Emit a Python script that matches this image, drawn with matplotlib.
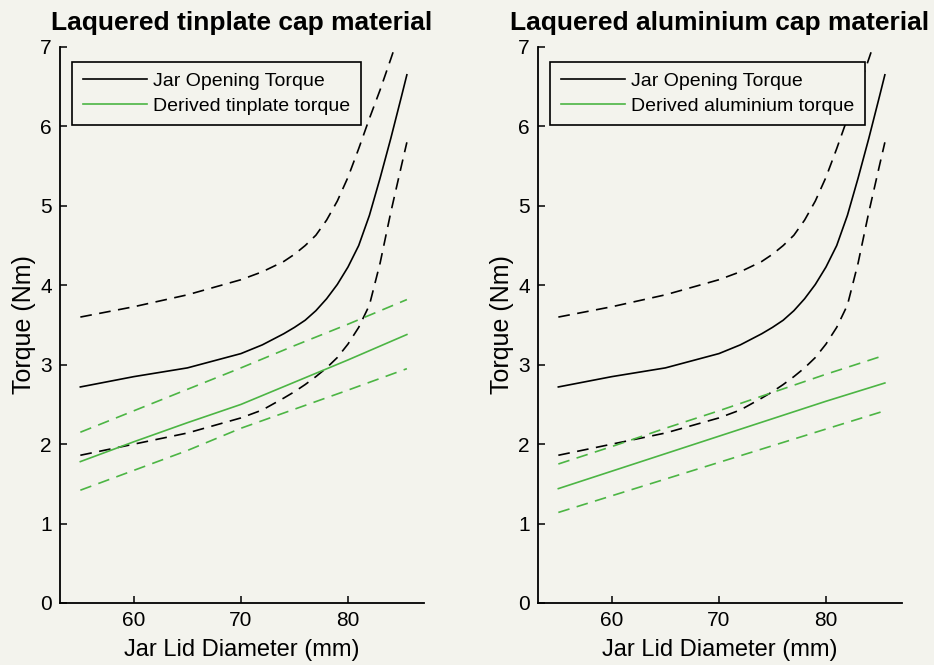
import numpy as np
import matplotlib.pyplot as plt

plt.rcParams['font.family'] = ['Liberation Sans', 'DejaVu Sans']

# jar opening torque (same on both panels)
dia_jar = [55, 60, 65, 70, 72, 74, 75, 76, 77, 78, 79, 80, 81, 82, 83, 84, 85, 85.5]
jar_mean = [2.72, 2.85, 2.96, 3.14, 3.25, 3.39, 3.47, 3.56, 3.68, 3.83, 4.01,
            4.23, 4.50, 4.88, 5.35, 5.85, 6.38, 6.65]
jar_upper = [3.60, 3.73, 3.88, 4.07, 4.17, 4.30, 4.39, 4.50, 4.63, 4.82, 5.06,
             5.36, 5.72, 6.10, 6.46, 6.85, 7.25, 7.45]
jar_lower = [1.86, 2.00, 2.14, 2.33, 2.43, 2.58, 2.66, 2.75, 2.85, 2.96, 3.09,
             3.26, 3.47, 3.75, 4.28, 4.92, 5.51, 5.80]

# derived cap torques
dia_cap = [55, 60, 65, 70, 75, 80, 85.5]
tin_mean = [1.78, 2.03, 2.27, 2.50, 2.78, 3.06, 3.38]
tin_upper = [2.15, 2.42, 2.69, 2.96, 3.24, 3.51, 3.82]
tin_lower = [1.42, 1.67, 1.92, 2.20, 2.44, 2.68, 2.95]
al_mean = [1.44, 1.66, 1.88, 2.10, 2.32, 2.54, 2.77]
al_upper = [1.75, 1.97, 2.20, 2.42, 2.65, 2.88, 3.12]
al_lower = [1.14, 1.35, 1.56, 1.77, 1.98, 2.19, 2.42]

panels = [
    ('Laquered tinplate cap material', 'Derived tinplate torque', tin_mean, tin_upper, tin_lower),
    ('Laquered aluminium cap material', 'Derived aluminium torque', al_mean, al_upper, al_lower),
]

bg = '#f3f3ed'
green = '#4cb544'
dash = (0, (7, 4.5))

fig = plt.figure(figsize=(9.34, 6.65), dpi=100, facecolor=bg)
lefts = [60 / 934, 538 / 934]

for left, (title, lab, m, up, lo) in zip(lefts, panels):
    ax = fig.add_axes([left, 1 - 603 / 665, 364 / 934, 556 / 665])
    ax.set_facecolor(bg)
    ax.plot(dia_jar, jar_mean, color='black', lw=1.2, label='Jar Opening Torque')
    ax.plot(dia_jar, jar_upper, color='black', lw=1.2, linestyle=dash)
    ax.plot(dia_jar, jar_lower, color='black', lw=1.2, linestyle=dash)
    ax.plot(dia_cap, m, color=green, lw=1.2, label=lab)
    ax.plot(dia_cap, up, color=green, lw=1.2, linestyle=dash)
    ax.plot(dia_cap, lo, color=green, lw=1.2, linestyle=dash)

    ax.set_xlim(53.1, 87.1)
    ax.set_ylim(0, 7)
    ax.set_xticks([60, 70, 80])
    ax.set_yticks(range(0, 8))
    for s in ['top', 'right']:
        ax.spines[s].set_visible(False)
    for s in ['left', 'bottom']:
        ax.spines[s].set_linewidth(1.3)
    ax.tick_params(direction='in', length=5, width=1.1, labelsize=15, pad=6)
    ax.set_xlabel('Jar Lid Diameter (mm)', fontsize=17, labelpad=6)
    ax.set_ylabel('Torque (Nm)', fontsize=18, labelpad=3)
    ax.set_title(title, fontsize=19, fontweight='bold', pad=12)

    leg = ax.legend(loc='upper left', bbox_to_anchor=(12 / 364, 541 / 556),
                    borderaxespad=0, fontsize=14, handlelength=3.3,
                    handletextpad=0.3, labelspacing=0.35, borderpad=0.55,
                    fancybox=False, framealpha=1, facecolor=bg, edgecolor='black')
    leg.get_frame().set_linewidth(1.2)

plt.savefig('out.png', dpi=100, facecolor=bg)
